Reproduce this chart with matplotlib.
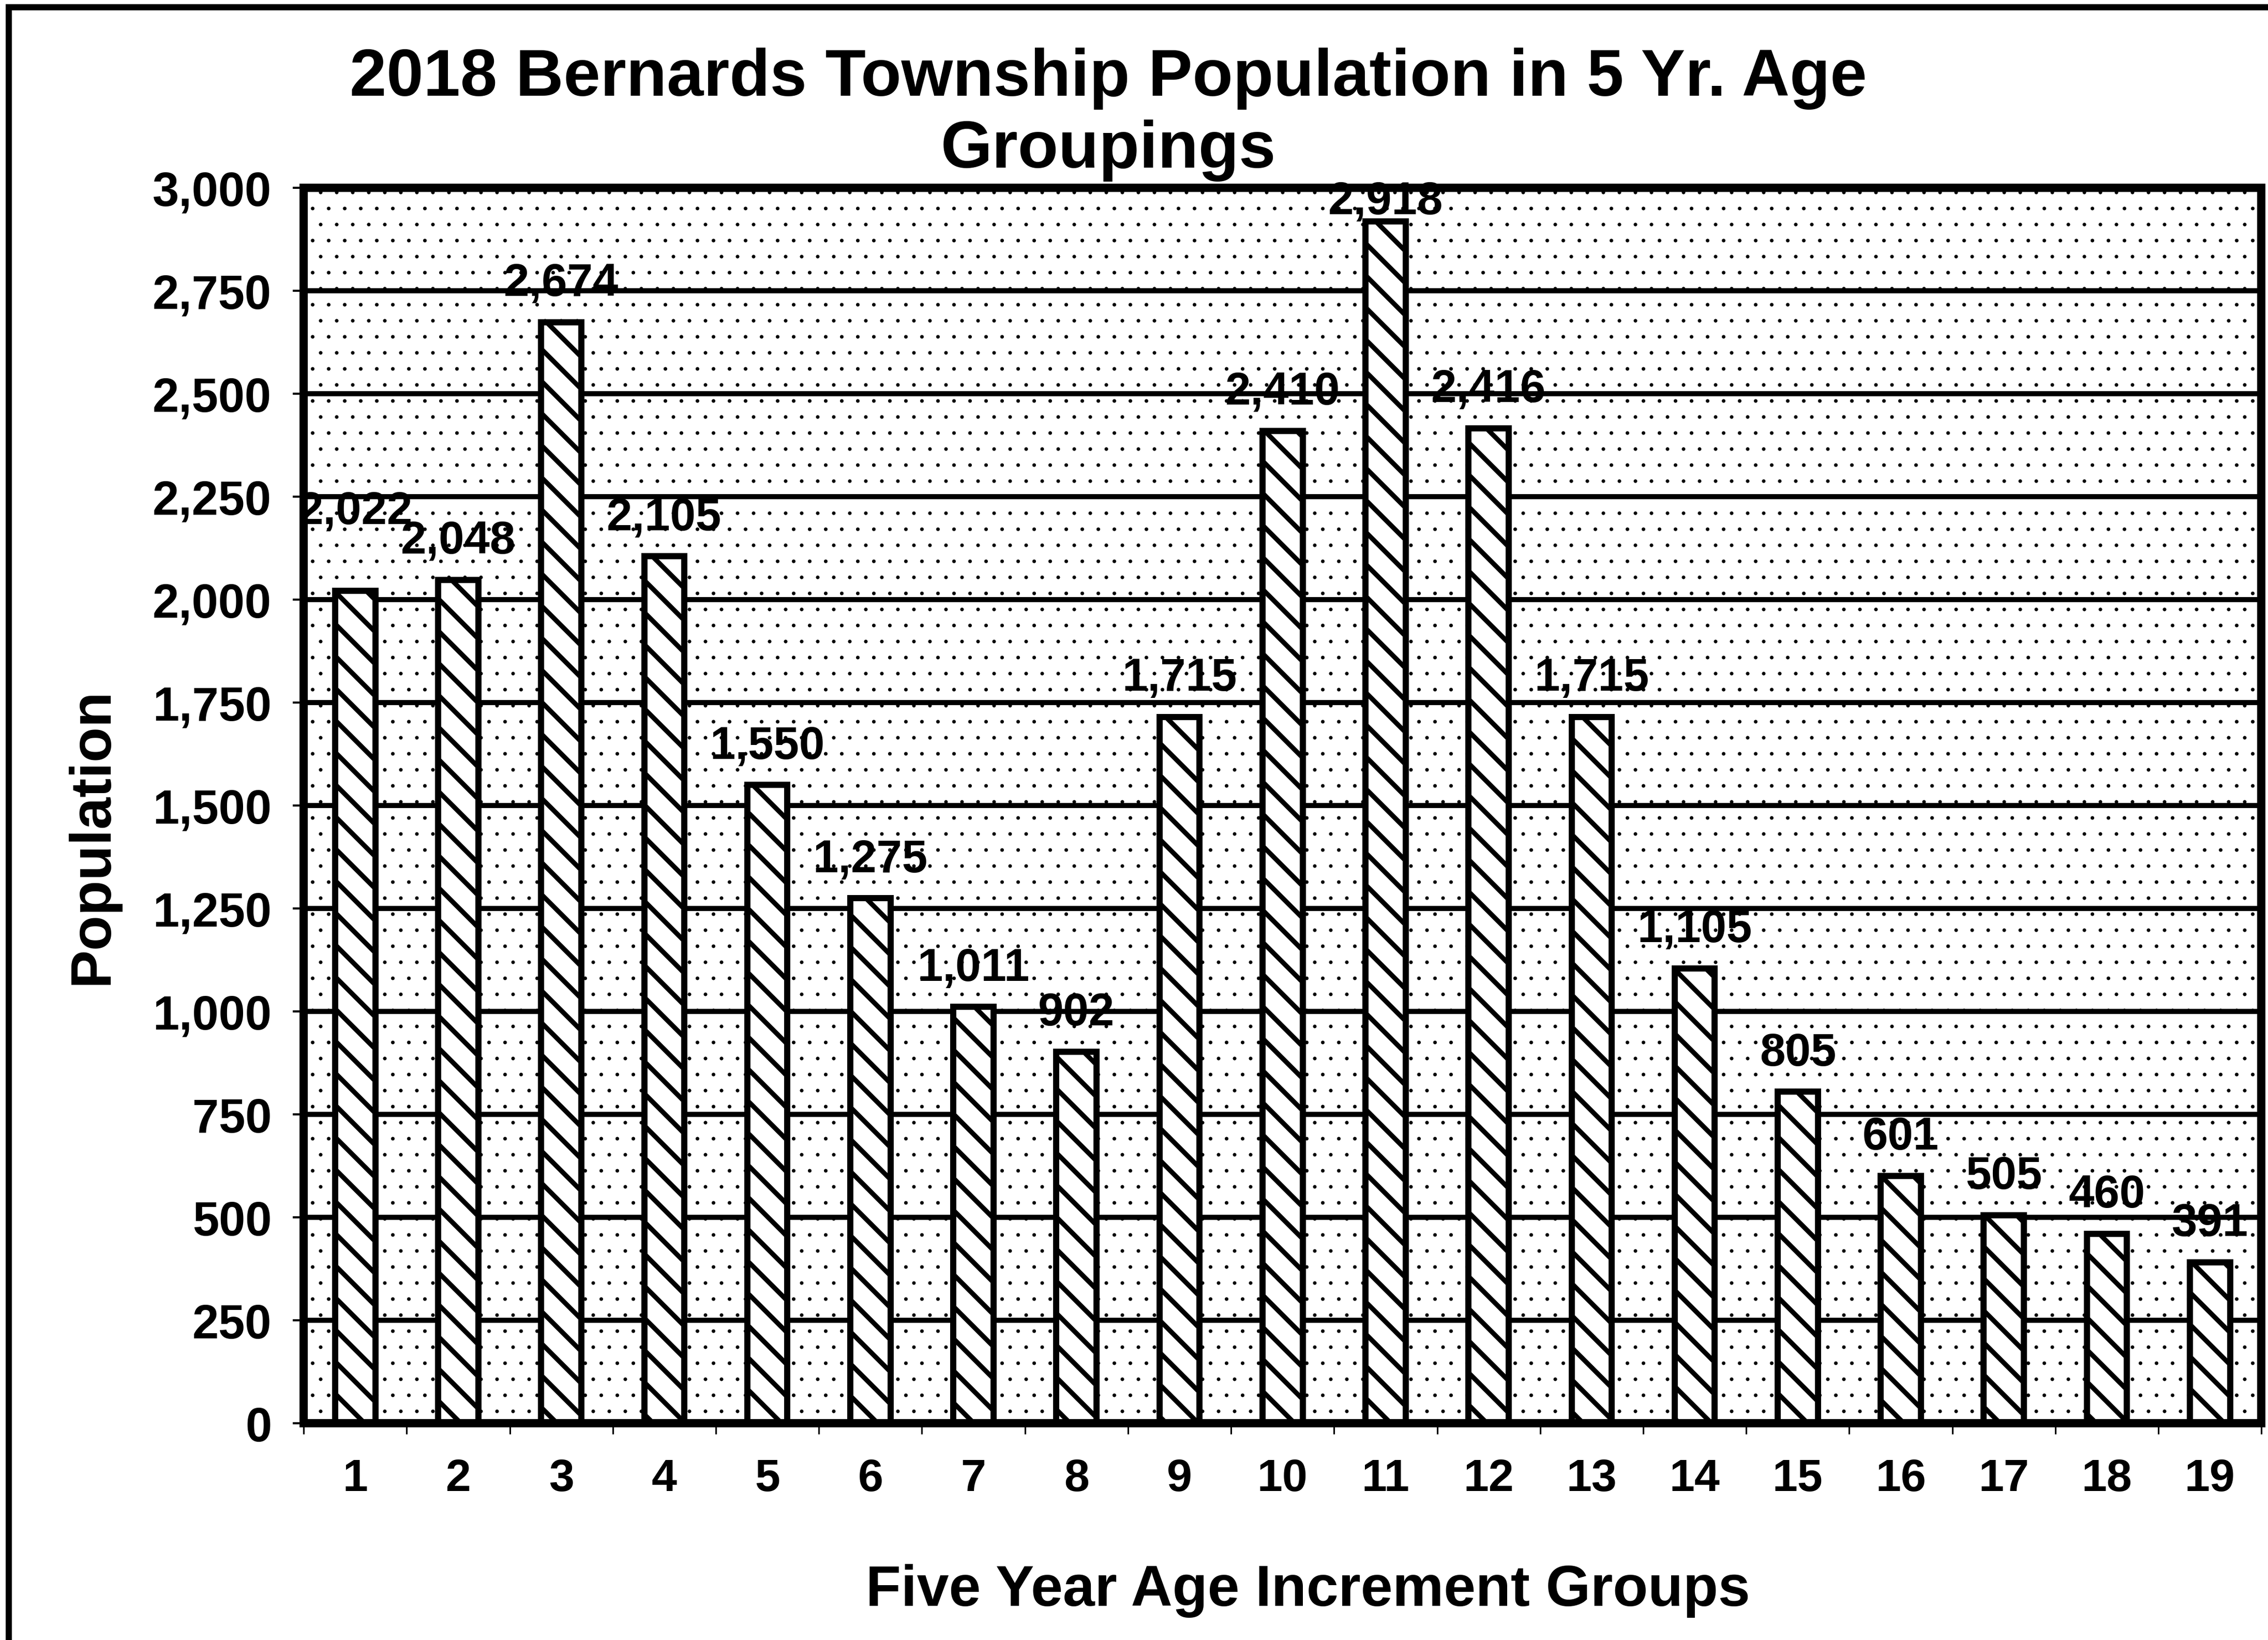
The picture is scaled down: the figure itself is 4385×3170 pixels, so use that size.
import numpy as np
import matplotlib
matplotlib.use("Agg")
import matplotlib.pyplot as plt
from matplotlib.patches import Rectangle
from matplotlib.ticker import StrMethodFormatter

# data
age_groups = list(range(1, 20))
population = [2022, 2048, 2674, 2105, 1550, 1275, 1011, 902, 1715, 2410,
              2918, 2416, 1715, 1105, 805, 601, 505, 460, 391]
y_ticks = list(range(0, 3001, 250))

title = "2018 Bernards Township Population in 5 Yr. Age\nGroupings"
x_label = "Five Year Age Increment Groups"
y_label = "Population"

# the labels that were shifted in the original (in points)
label_nudge = {0: 15, 10: -7}

DPI = 372
plt.rcParams['font.family'] = ['Liberation Sans', 'DejaVu Sans']
plt.rcParams['font.weight'] = 'bold'
plt.rcParams['hatch.color'] = 'black'

fig = plt.figure(figsize=(4385 / DPI, 3171 / DPI), dpi=DPI)
fig.patch.set_facecolor('white')

# dotted plot background
plt.rcParams['hatch.linewidth'] = 0.15
ax = fig.add_axes([0.1339, 0.1321, 0.8632, 0.7531])
ax.patch.set_facecolor('white')
ax.patch.set_edgecolor('black')
ax.patch.set_linewidth(0)
ax.patch.set_hatch('..')
if hasattr(ax.patch, 'set_hatch_linewidth'):
    ax.patch.set_hatch_linewidth(0.15)

# hatched bars
plt.rcParams['hatch.linewidth'] = 1.8
bars = ax.bar(age_groups, population, width=0.39, color='white',
              edgecolor='black', linewidth=2.3, hatch='\\\\', zorder=2)
for b in bars:
    if hasattr(b, 'set_hatch_linewidth'):
        b.set_hatch_linewidth(1.8)

ax.set_axisbelow(True)
ax.yaxis.grid(True, color='black', linewidth=1.9)

ax.set_xlim(0.5, 19.5)
ax.set_ylim(0, 3000)
ax.set_yticks(y_ticks)
ax.yaxis.set_major_formatter(StrMethodFormatter('{x:,.0f}'))
ax.set_xticks(age_groups)
ax.set_xticks(np.arange(0.5, 20, 1), minor=True)
ax.tick_params(axis='x', which='major', length=0, pad=13, labelsize=17)
ax.tick_params(axis='x', which='minor', length=4, width=0.6, direction='out')
ax.tick_params(axis='y', length=4, width=0.8, pad=8, labelsize=17.8)

for s in ax.spines.values():
    s.set_linewidth(3.1)
    s.set_color('black')

for i, (x, v) in enumerate(zip(age_groups, population)):
    ax.annotate(f"{v:,}", (x, v), xytext=(0, 10 + label_nudge.get(i, 0)),
                textcoords='offset points', ha='center', va='baseline',
                fontsize=17.2, fontweight='bold', zorder=4)

fig.text(0.4886, 0.8977, title, ha='center', va='baseline', fontsize=24.8,
         fontweight='bold', linespacing=1.21, multialignment='center')
fig.text(0.0408, 0.4904, y_label, rotation=90, ha='center', va='center',
         fontsize=21.5, fontweight='bold')
fig.text(0.5766, 0.0211, x_label, ha='center', va='baseline',
         fontsize=21.5, fontweight='bold')

# outer frame (only left and top edges visible in the scan)
fig.add_artist(Rectangle((0.0039, -0.05), 1.2, 0.9953 + 0.05,
                         transform=fig.transFigure, fill=False,
                         edgecolor='black', linewidth=2.3))

fig.savefig('out.png', dpi=DPI)
